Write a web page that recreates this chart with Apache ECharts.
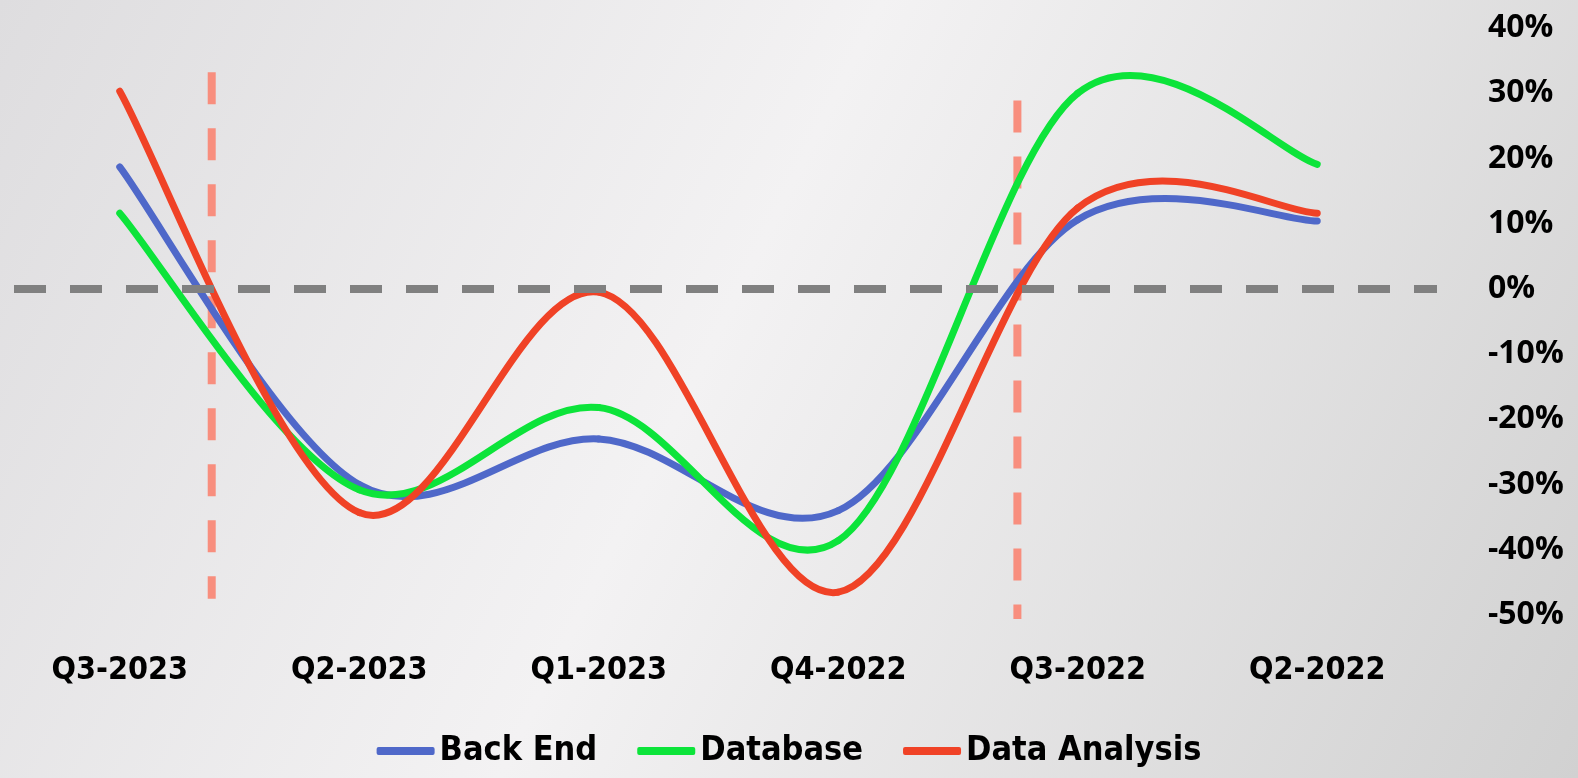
<!DOCTYPE html>
<html>
<head>
<meta charset="utf-8">
<script src="https://cdn.jsdelivr.net/npm/echarts@6/dist/echarts.min.js"></script>
<style>
  html, body { margin: 0; padding: 0; }
  #chart { width: 1578px; height: 778px; }
</style>
</head>
<body>
<div id="chart"></div>
<script>
// quarters, newest first
var quarters = ["Q3-2023", "Q2-2023", "Q1-2023", "Q4-2022", "Q3-2022", "Q2-2022"];
var backEnd = [18.7, -30, -23, -34, 10.6, 10.4];
var database = [11.6, -30.8, -18.2, -38.6, 30, 19.1];
var dataAnalysis = [30.3, -34.3, -0.5, -46.5, 12.4, 11.6];
// vertical markers: position in category units, top and bottom value
var markerA = [[0.384, 33.2], [0.384, -47.5]];
var markerB = [[3.748, 28.9], [3.748, -52.5]];

var narrow = "'DejaVu Sans Condensed', 'DejaVu Sans', sans-serif";

var chart = echarts.init(document.getElementById("chart"));

// smooth curve like the office chart smoothing (catmull-rom through the points)
function curve(name, values, color) {
  return {
    name: name,
    type: "custom",
    data: values.map(function (v, i) { return [i, v]; }),
    encode: { x: 0, y: 1 },
    itemStyle: { color: color },
    z: 3,
    renderItem: function (params, api) {
      var i = params.dataIndex;
      var n = values.length;
      if (i >= n - 1) return { type: "group", children: [] };
      var p = function (k) {
        k = Math.max(0, Math.min(n - 1, k));
        return api.coord([k, values[k]]);
      };
      var p0 = p(i - 1), p1 = p(i), p2 = p(i + 1), p3 = p(i + 2);
      return {
        type: "bezierCurve",
        shape: {
          x1: p1[0], y1: p1[1],
          cpx1: p1[0] + (p2[0] - p0[0]) / 6, cpy1: p1[1] + (p2[1] - p0[1]) / 6,
          cpx2: p2[0] - (p3[0] - p1[0]) / 6, cpy2: p2[1] - (p3[1] - p1[1]) / 6,
          x2: p2[0], y2: p2[1]
        },
        style: { stroke: color, lineWidth: 7, fill: null, lineCap: "round" }
      };
    }
  };
}

function marker(coords) {
  return {
    type: "line",
    xAxisIndex: 1,
    data: coords,
    symbol: "none",
    clip: false,
    silent: true,
    lineStyle: { color: "#F88E7E", width: 8, type: [32, 24] },
    z: 2
  };
}

var option = {
  backgroundColor: {
    type: "linear", x: 0, y: 0, x2: 1, y2: 1,
    colorStops: [
      { offset: 0, color: "#dedddf" },
      { offset: 0.45, color: "#f3f2f3" },
      { offset: 1, color: "#d1d1d1" }
    ]
  },
  grid: { left: 0, right: 141, top: 28, bottom: 163 },
  legend: {
    data: ["Back End", "Database", "Data Analysis"],
    icon: "roundRect",
    left: "center",
    bottom: 5,
    itemWidth: 58,
    itemHeight: 8,
    itemGap: 40,
    textStyle: { fontFamily: narrow, fontWeight: "bold", fontSize: 34, color: "#000" }
  },
  xAxis: [
    {
      type: "category",
      data: quarters,
      boundaryGap: true,
      axisLine: { show: false },
      axisTick: { show: false },
      axisLabel: { margin: 40, fontFamily: narrow, fontWeight: "bold", fontSize: 32, color: "#000" }
    },
    { type: "value", min: -0.5, max: 5.5, show: false }
  ],
  yAxis: {
    type: "value",
    position: "right",
    min: -50,
    max: 40,
    interval: 10,
    splitLine: { show: false },
    axisLine: { show: false },
    axisTick: { show: false },
    axisLabel: {
      formatter: "{value}%",
      margin: 51,
      fontFamily: "'Open Sans', sans-serif",
      fontWeight: "bold",
      fontSize: 32,
      color: "#000"
    }
  },
  series: [
    curve("Back End", backEnd, "#4F68C9"),
    curve("Database", database, "#0CE43A"),
    curve("Data Analysis", dataAnalysis, "#F04226"),
    marker(markerA),
    marker(markerB),
    {
      type: "line",
      data: [],
      markLine: {
        silent: true,
        symbol: "none",
        label: { show: false },
        lineStyle: { color: "#808080", width: 8, type: [32, 24], dashOffset: 42 },
        data: [{ yAxis: 0 }]
      },
      z: 1
    }
  ]
};

option && chart.setOption(option);
</script>
</body>
</html>
